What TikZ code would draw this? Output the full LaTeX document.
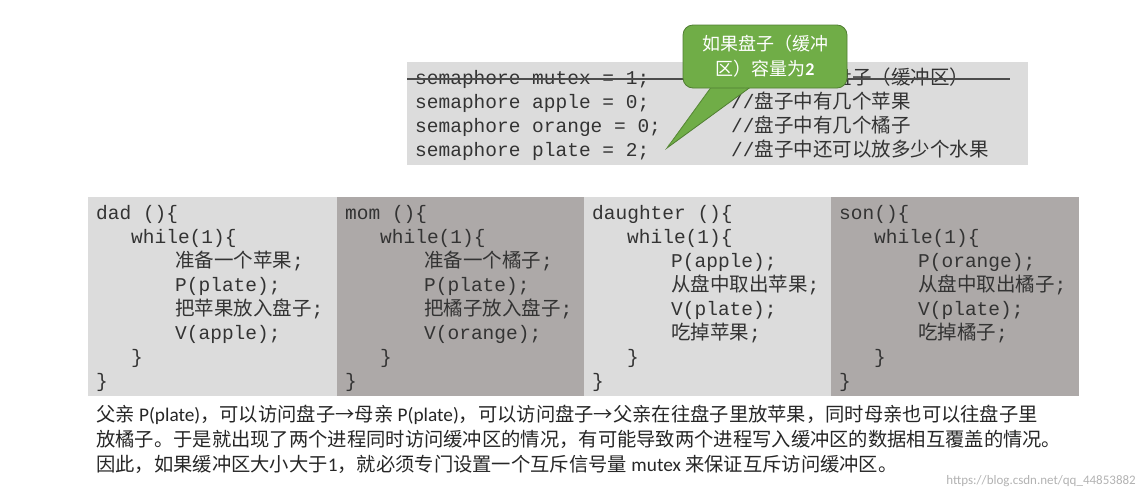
\documentclass[tikz,border=0pt]{standalone}
\usepackage{fontspec}
\setmainfont{Carlito}
\newfontfamily\cjk{Noto Sans CJK SC}
\newfontfamily\mono{Liberation Mono}
\newcommand{\zh}[1]{{\cjk #1}}
\definecolor{lightg}{HTML}{DCDCDC}
\definecolor{darkg}{HTML}{ADA9A8}
\definecolor{callg}{HTML}{70AD47}
\definecolor{callb}{HTML}{507E32}
\begin{document}
\begin{tikzpicture}[x=1pt,y=-1pt,
  codetxt/.style={anchor=base west,inner sep=0,font=\mono\fontsize{19.5}{22}\selectfont,text=black!80},
  note/.style={anchor=base west,inner sep=0,font=\fontsize{19.3}{22}\selectfont,text=black!85}]
\useasboundingbox (0,0) rectangle (1143,498);
% top box
\fill[lightg] (407,62) rectangle (1028,165);
\foreach \t/\c [count=\i] in {semaphore mutex = 1;/{//\zh{互斥访问盘子（缓冲区）}},semaphore apple = 0;/{//\zh{盘子中有几个苹果}},semaphore orange = 0;/{//\zh{盘子中有几个橘子}},semaphore plate = 2;/{//\zh{盘子中还可以放多少个水果}}}{
  \node[codetxt] (s\i) at (415,60+24*\i) {\t};
  \node[codetxt] (c\i) at (731,60+24*\i) {\c};
}
\draw[black!70,line width=1.2pt] (407,79) -- (1010,79);
% callout
\coordinate (tip) at (667,148);
\fill[callg,draw=callb,line width=0.8pt] (712,86) -- (tip) -- (752,86) -- cycle;
\node[fill=callg,draw=callb,line width=0.8pt,rounded corners=10pt,minimum width=164pt,minimum height=63pt,inner sep=0,
  text=white,align=center,font=\cjk\fontsize{18}{25}\selectfont] (call) at (765,56.5) {如果盘子（缓冲\\区）容量为{\fontspec{Carlito}\bfseries 2}};
\fill[callg] (713.5,84) -- (tip) ++(1,-3) -- (750.5,84) -- cycle;
% bottom boxes
\fill[lightg] (88,197) rectangle (337,396);
\fill[darkg] (337,197) rectangle (584,396);
\fill[lightg] (584,197) rectangle (831,396);
\fill[darkg] (831,197) rectangle (1079,396);
\newcommand{\prog}[6]{%
  \node[codetxt] at (#1+8,219) {#2};
  \node[codetxt] at (#1+43,243) {while(1)\{};
  \node[codetxt] at (#1+87,267) {#3};
  \node[codetxt] at (#1+87,291) {#4};
  \node[codetxt] at (#1+87,315) {#5};
  \node[codetxt] at (#1+87,339) {#6};
  \node[codetxt] at (#1+43,363) {\}};
  \node[codetxt] at (#1+8,387) {\}};}
\prog{88}{dad ()\{}{\zh{准备一个苹果};}{P(plate);}{\zh{把苹果放入盘子};}{V(apple);}
\prog{337}{mom ()\{}{\zh{准备一个橘子};}{P(plate);}{\zh{把橘子放入盘子};}{V(orange);}
\prog{584}{daughter ()\{}{P(apple);}{\zh{从盘中取出苹果};}{V(plate);}{\zh{吃掉苹果};}
\prog{831}{son()\{}{P(orange);}{\zh{从盘中取出橘子};}{V(plate);}{\zh{吃掉橘子};}
% notes
\node[note] (n1) at (96,421) {\zh{父亲} P(plate)\zh{，可以访问盘子}{\cjk →}\zh{母亲} P(plate)\zh{，可以访问盘子}{\cjk →}\zh{父亲在往盘子里放苹果，同时母亲也可以往盘子里}};
\node[note] (n2) at (96,446) {\zh{放橘子。于是就出现了两个进程同时访问缓冲区的情况，有可能导致两个进程写入缓冲区的数据相互覆盖的情况。}};
\node[note] (n3) at (96,471) {\zh{因此，如果缓冲区大小大于}1\zh{，就必须专门设置一个互斥信号量} mutex \zh{来保证互斥访问缓冲区。}};
\node[anchor=base east,inner sep=0,font=\fontsize{13}{15}\selectfont,text=black!30] (wm) at (1136,484) {https://blog.csdn.net/qq\_44853882};
\end{tikzpicture}
\end{document}
